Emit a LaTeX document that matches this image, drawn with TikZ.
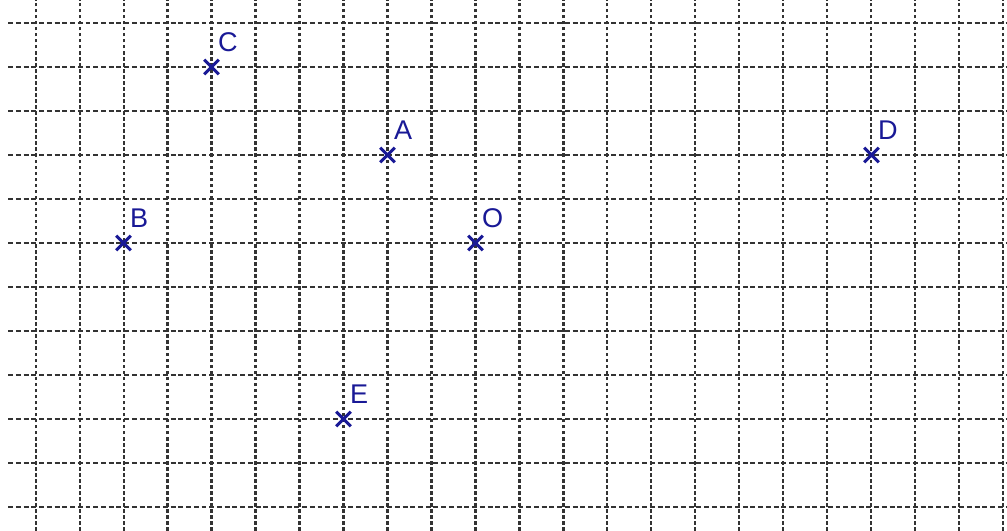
\documentclass[tikz,border=0pt]{standalone}
\usepackage{fontspec}
\setmainfont{Liberation Sans}
\usetikzlibrary{positioning, shapes.misc}
\definecolor{ptblue}{RGB}{25,25,150}

\begin{document}
\begin{tikzpicture}[
  hline/.style={black!80,line width=1.2pt,dash pattern=on 3.2pt off 1.8pt},
  vline/.style={black!80,line width=1.3pt,dash pattern=on 2.3pt off 1.6pt},
  cross pt/.style={cross out,draw=ptblue,line width=2pt,minimum size=0.33cm,inner sep=0pt,outer sep=0pt},
  pt label/.style={text=ptblue,font=\fontsize{17.5}{20}\selectfont,inner sep=0pt,above right=0.17cm and -0.02cm of #1}]
  \useasboundingbox (-0.807,-0.545) rectangle (22.08,11.523);
  % grid
  \foreach \x in {0,...,22}
    \draw[vline] (\x,-0.545) -- (\x,11.523);
  \foreach \y in {0,...,11}
    \draw[hline] (-0.62,\y) -- (22.08,\y);
  % points
  \node[cross pt] (C) at (4,10) {};
  \node[cross pt] (A) at (8,8) {};
  \node[cross pt] (D) at (19,8) {};
  \node[cross pt] (B) at (2,6) {};
  \node[cross pt] (O) at (10,6) {};
  \node[cross pt] (E) at (7,2) {};
  \node[pt label=C] (lC) {C};
  \node[pt label=A] (lA) {A};
  \node[pt label=D] (lD) {D};
  \node[pt label=B] (lB) {B};
  \node[pt label=O] (lO) {O};
  \node[pt label=E] (lE) {E};
\end{tikzpicture}
\end{document}
